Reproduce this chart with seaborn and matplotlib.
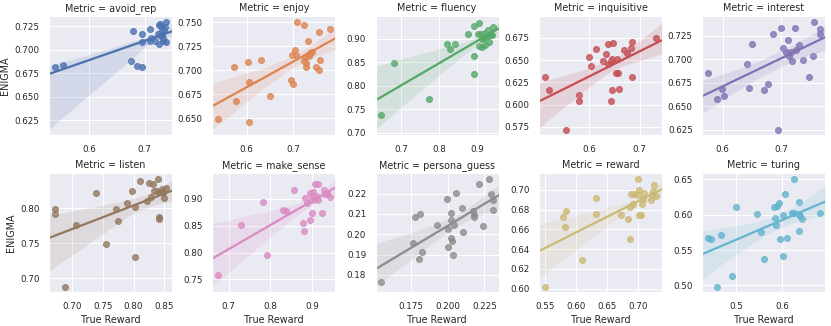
import numpy as np
import pandas as pd
import seaborn as sns
import matplotlib
matplotlib.use("Agg")
import matplotlib.pyplot as plt

metrics = ["avoid_rep", "enjoy", "fluency", "inquisitive", "interest",
           "listen", "make_sense", "persona_guess", "reward", "turing"]

# (true reward, enigma) pairs
avoid_rep_x = [0.537, 0.553, 0.679, 0.676, 0.686, 0.695, 0.695, 0.696, 0.709, 0.709, 0.712, 0.718, 0.725,
               0.727, 0.728, 0.731, 0.732, 0.734, 0.735, 0.737, 0.739, 0.738, 0.726, 0.733, 0.724, 0.729]
avoid_rep_y = [0.681, 0.684, 0.720, 0.6875, 0.682, 0.681, 0.7165, 0.708, 0.722, 0.709, 0.712, 0.7095, 0.726,
               0.718, 0.7275, 0.723, 0.7165, 0.712, 0.721, 0.7235, 0.729, 0.708, 0.706, 0.7095, 0.717, 0.714]

enjoy_x = [0.538, 0.572, 0.576, 0.603, 0.604, 0.606, 0.630, 0.651, 0.695, 0.700, 0.697, 0.705, 0.707, 0.708,
           0.724, 0.725, 0.724, 0.728, 0.727, 0.732, 0.734, 0.737, 0.742, 0.749, 0.757, 0.757, 0.759, 0.779]
enjoy_y = [0.649, 0.704, 0.668, 0.709, 0.688, 0.646, 0.711, 0.673, 0.690, 0.686, 0.716, 0.721, 0.716, 0.750,
           0.747, 0.714, 0.710, 0.708, 0.704, 0.731, 0.715, 0.718, 0.719, 0.704, 0.740, 0.700, 0.711, 0.743]

fluency_x = [0.648, 0.682, 0.774, 0.822, 0.829, 0.841, 0.877, 0.892, 0.891, 0.892, 0.906, 0.904, 0.906,
             0.910, 0.913, 0.916, 0.920, 0.922, 0.927, 0.929, 0.932, 0.935, 0.942, 0.939, 0.918, 0.912]
fluency_y = [0.737, 0.849, 0.773, 0.890, 0.878, 0.889, 0.910, 0.928, 0.863, 0.826, 0.934, 0.910, 0.885,
             0.910, 0.883, 0.906, 0.913, 0.886, 0.903, 0.919, 0.893, 0.909, 0.926, 0.908, 0.901, 0.899]

inquisitive_x = [0.512, 0.521, 0.581, 0.581, 0.554, 0.599, 0.603, 0.613, 0.627, 0.633, 0.637, 0.638, 0.644, 0.645,
                 0.648, 0.645, 0.643, 0.653, 0.655, 0.658, 0.659, 0.669, 0.676, 0.683, 0.685, 0.684, 0.733]
inquisitive_y = [0.631, 0.617, 0.611, 0.604, 0.572, 0.653, 0.643, 0.662, 0.649, 0.657, 0.668, 0.646, 0.649, 0.651,
                 0.669, 0.617, 0.604, 0.636, 0.651, 0.636, 0.618, 0.661, 0.658, 0.664, 0.670, 0.631, 0.675]

interest_x = [0.575, 0.590, 0.599, 0.602, 0.641, 0.645, 0.650, 0.670, 0.678, 0.686, 0.695, 0.699, 0.703, 0.707,
              0.711, 0.713, 0.716, 0.718, 0.723, 0.725, 0.730, 0.736, 0.747, 0.753, 0.755, 0.765, 0.765]
interest_y = [0.685, 0.658, 0.668, 0.661, 0.695, 0.669, 0.716, 0.667, 0.673, 0.727, 0.625, 0.733, 0.712, 0.708,
              0.720, 0.7035, 0.707, 0.698, 0.733, 0.710, 0.715, 0.6986, 0.681, 0.7035, 0.739, 0.732, 0.727]

listen_x = [0.673, 0.672, 0.689, 0.707, 0.739, 0.756, 0.771, 0.774, 0.790, 0.798, 0.803, 0.803, 0.810, 0.822,
            0.825, 0.829, 0.831, 0.833, 0.838, 0.840, 0.842, 0.842, 0.843, 0.846, 0.847, 0.850, 0.853]
listen_y = [0.799, 0.791, 0.688, 0.776, 0.822, 0.749, 0.799, 0.782, 0.807, 0.824, 0.801, 0.731, 0.838, 0.810,
            0.836, 0.816, 0.834, 0.825, 0.825, 0.841, 0.787, 0.784, 0.823, 0.827, 0.822, 0.814, 0.829]

make_sense_x = [0.674, 0.729, 0.783, 0.791, 0.830, 0.837, 0.856, 0.878, 0.881, 0.882, 0.888, 0.894, 0.894, 0.900,
                0.898, 0.902, 0.906, 0.907, 0.910, 0.913, 0.915, 0.923, 0.928, 0.931, 0.935, 0.942, 0.901]
make_sense_y = [0.758, 0.851, 0.895, 0.796, 0.880, 0.878, 0.916, 0.855, 0.840, 0.902, 0.892, 0.860, 0.910, 0.873,
                0.898, 0.912, 0.927, 0.900, 0.906, 0.898, 0.927, 0.873, 0.917, 0.909, 0.911, 0.903, 0.906]

persona_guess_x = [0.1545, 0.1764, 0.1773, 0.1813, 0.1824, 0.1801, 0.1929, 0.1997, 0.1999, 0.2004, 0.2020, 0.2022,
                   0.2022, 0.2029, 0.2034, 0.2041, 0.2055, 0.2099, 0.2106, 0.2171, 0.2176, 0.2178, 0.2215, 0.2238,
                   0.2278, 0.2292, 0.2308, 0.2308]
persona_guess_y = [0.1765, 0.1955, 0.2087, 0.210, 0.1913, 0.1877, 0.2045, 0.2175, 0.1937, 0.2027, 0.1983, 0.2103,
                   0.207, 0.1965, 0.1898, 0.2045, 0.2205, 0.2127, 0.2013, 0.2115, 0.2097, 0.2085, 0.2245, 0.204,
                   0.227, 0.2197, 0.2167, 0.2118]

reward_x = [0.549, 0.579, 0.582, 0.584, 0.609, 0.632, 0.632, 0.672, 0.683, 0.686, 0.687, 0.689, 0.691, 0.693,
            0.699, 0.700, 0.701, 0.701, 0.705, 0.706, 0.707, 0.709, 0.720, 0.722, 0.724, 0.726, 0.729]
reward_y = [0.602, 0.672, 0.6627, 0.6783, 0.6295, 0.692, 0.6756, 0.675, 0.670, 0.650, 0.6827, 0.6953, 0.6858,
            0.6953, 0.6946, 0.7105, 0.674, 0.700, 0.6742, 0.6854, 0.691, 0.697, 0.690, 0.695, 0.699, 0.7047, 0.6936]

turing_x = [0.438, 0.444, 0.467, 0.458, 0.490, 0.500, 0.546, 0.553, 0.560, 0.582, 0.584, 0.587, 0.588, 0.593,
            0.595, 0.601, 0.601, 0.607, 0.610, 0.622, 0.625, 0.625, 0.636, 0.636, 0.637, 0.640, 0.643, 0.682]
turing_y = [0.567, 0.565, 0.571, 0.498, 0.513, 0.611, 0.601, 0.576, 0.537, 0.611, 0.595, 0.585, 0.612, 0.617,
            0.566, 0.599, 0.541, 0.630, 0.567, 0.603, 0.603, 0.650, 0.601, 0.577, 0.618, 0.598, 0.594, 0.602]

all_x = [avoid_rep_x, enjoy_x, fluency_x, inquisitive_x, interest_x,
         listen_x, make_sense_x, persona_guess_x, reward_x, turing_x]
all_y = [avoid_rep_y, enjoy_y, fluency_y, inquisitive_y, interest_y,
         listen_y, make_sense_y, persona_guess_y, reward_y, turing_y]

# build long-format frame
frames = []
for m, xs, ys in zip(metrics, all_x, all_y):
    frames.append(pd.DataFrame({"Metric": m, "True Reward": xs, "ENIGMA": ys}))
df = pd.concat(frames, ignore_index=True)

sns.set(style="darkgrid", context="notebook", font_scale=0.8)

g = sns.lmplot(data=df, x="True Reward", y="ENIGMA", col="Metric", hue="Metric",
               col_wrap=5, height=2.3, aspect=1, sharex=False, sharey=False,
               truncate=False, seed=0)

# x limits: data range plus the usual 5% margin (line still spans the panel)
for ax, xs in zip(g.axes.flat, all_x):
    lo, hi = min(xs), max(xs)
    pad = (hi - lo) * 0.05
    ax.set_xlim(lo - pad, hi + pad)

fig = g.fig
fig.set_size_inches(831 / 72, 326 / 72)
fig.subplots_adjust(left=0.059, right=0.993, top=0.948, bottom=0.104,
                    wspace=0.33, hspace=0.33)
fig.savefig("out.png", dpi=72)
